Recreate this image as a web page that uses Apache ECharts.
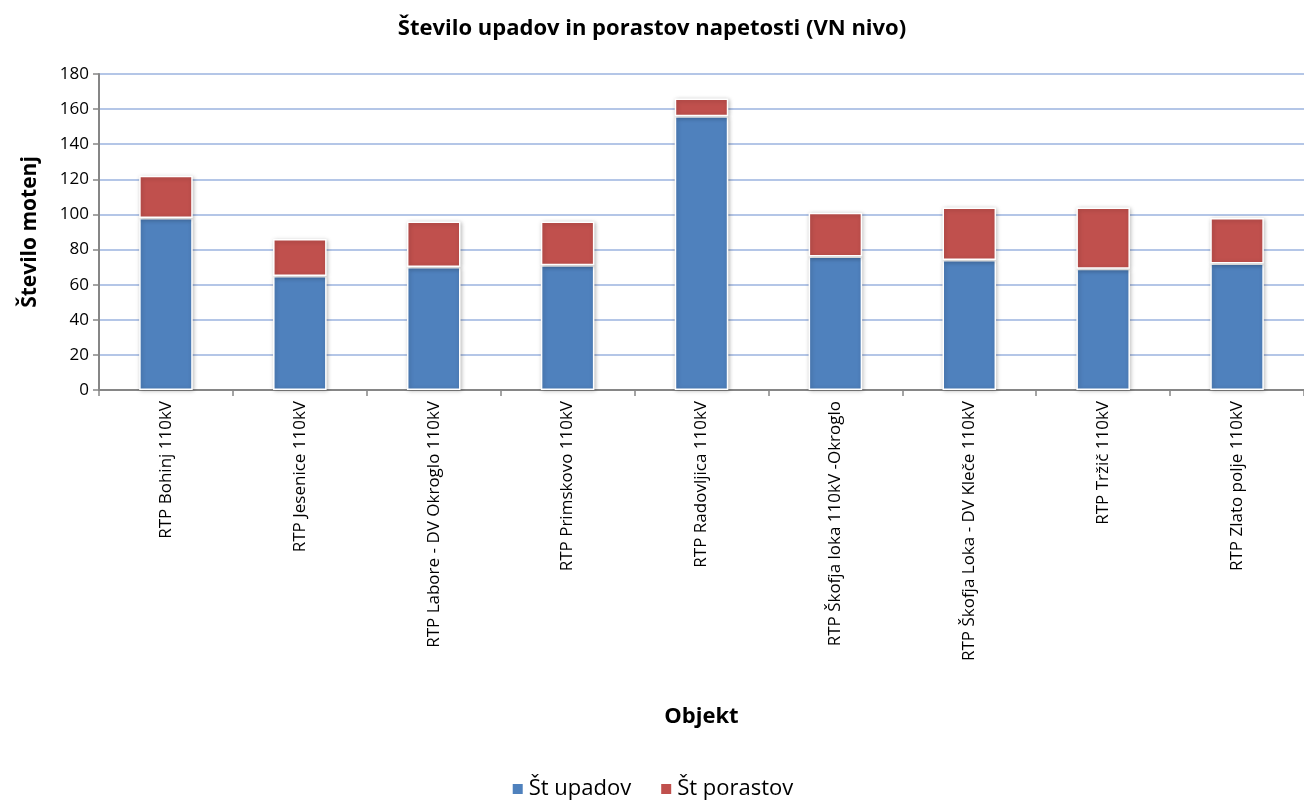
<!DOCTYPE html>
<html><head><meta charset="utf-8">
<script src="https://cdn.jsdelivr.net/npm/echarts@6/dist/echarts.min.js"></script>
<style>html,body{margin:0;padding:0;background:#fff}#c{width:1304px;height:801px}</style>
</head><body><div id="c"></div>
<script>
const categories = ["RTP Bohinj 110kV","RTP Jesenice 110kV","RTP Labore - DV Okroglo 110kV","RTP Primskovo 110kV","RTP Radovljica 110kV","RTP Škofja loka 110kV -Okroglo","RTP Škofja Loka - DV Kleče 110kV","RTP Tržič 110kV","RTP Zlato polje 110kV"];
const upadov = [98, 65, 70, 71, 156, 76, 74, 69, 72];
const porastov = [24, 21, 26, 25, 10, 25, 30, 35, 26];
const seriesNames = ["Št upadov", "Št porastov"];
const yTicks = {min: 0, max: 180, interval: 20};

const FONT = "'Open Sans', 'Noto Sans', sans-serif";
const chart = echarts.init(document.getElementById('c'));
const barStyle = (color) => ({color: color, borderColor: '#ffffff', borderWidth: 1.5, shadowColor: 'rgba(0,0,0,0.25)', shadowBlur: 4, shadowOffsetX: 1, shadowOffsetY: 1});
chart.setOption({
  animation: false,
  textStyle: {fontFamily: FONT},
  title: {text: 'Število upadov in porastov napetosti (VN nivo)', left: 'center', top: 13,
    textStyle: {fontFamily: FONT, fontSize: 22, fontWeight: 'bold', color: '#000'}},
  legend: {bottom: -4, left: 'center', itemWidth: 12, itemHeight: 12, itemGap: 28, icon: 'rect',
    textStyle: {fontFamily: FONT, fontSize: 22, color: '#000'}, data: seriesNames},
  grid: {left: 99, right: -5, top: 74, bottom: 411, containLabel: false},
  xAxis: {type: 'category', data: categories,
    name: 'Objekt', nameLocation: 'middle', nameGap: 316,
    nameTextStyle: {fontFamily: FONT, fontSize: 22, fontWeight: 'bold', color: '#000'},
    axisLine: {lineStyle: {color: '#868686', width: 2}},
    axisTick: {show: true, alignWithLabel: false, length: 6, lineStyle: {color: '#868686', width: 1.5}},
    axisLabel: {rotate: 90, fontFamily: FONT, fontSize: 17, color: '#000', margin: 11, interval: 0}},
  yAxis: {type: 'value', min: yTicks.min, max: yTicks.max, interval: yTicks.interval,
    name: 'Število motenj', nameLocation: 'middle', nameGap: 58, nameRotate: 90,
    nameTextStyle: {fontFamily: FONT, fontSize: 21, fontWeight: 'bold', color: '#000'},
    axisLine: {show: true, lineStyle: {color: '#868686', width: 2}},
    axisTick: {show: true, length: 6, lineStyle: {color: '#868686', width: 1.5}},
    axisLabel: {fontFamily: FONT, fontSize: 17, color: '#000', margin: 10},
    splitLine: {show: true, lineStyle: {color: '#b4c6e7', width: 2}}},
  series: [
    {name: seriesNames[0], type: 'bar', stack: 't', data: upadov, barWidth: '40%', itemStyle: barStyle('#4f81bd')},
    {name: seriesNames[1], type: 'bar', stack: 't', data: porastov, barWidth: '40%', itemStyle: barStyle('#c0504d')}
  ]
});
</script></body></html>
